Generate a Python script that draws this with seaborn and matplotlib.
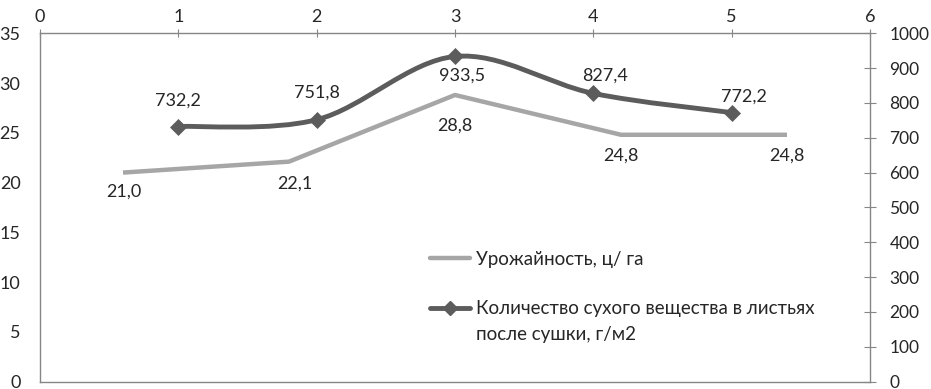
import numpy as np
import pandas as pd
import matplotlib
matplotlib.use("Agg")
import matplotlib.pyplot as plt
from matplotlib.path import Path
from matplotlib.patches import PathPatch
from matplotlib.lines import Line2D
import seaborn as sns

# данные
categories = ["1", "2", "3", "4", "5"]
urozhai = [21.0, 22.1, 28.8, 24.8, 24.8]          # ц/га, левая ось
suhoe_x = [1, 2, 3, 4, 5]                          # верхняя ось
suhoe = [732.2, 751.8, 933.5, 827.4, 772.2]        # г/м2, правая ось
top_ticks = [0, 1, 2, 3, 4, 5, 6]
left_ticks = [0, 5, 10, 15, 20, 25, 30, 35]
right_ticks = [0, 100, 200, 300, 400, 500, 600, 700, 800, 900, 1000]

label1 = "Урожайность, ц/ га"
label2_a = "Количество сухого вещества в листьях"
label2_b = "после сушки, г/м2"

light = "#A6A6A6"
dark = "#5C5C5C"
spine_c = "#868686"

sns.set_style("white")
plt.rcParams['font.family'] = ['Lato', 'DejaVu Sans']
plt.rcParams['font.size'] = 13

fig = plt.figure(figsize=(9.31, 3.89), dpi=100)
rect = [40 / 931, 1 - 381.5 / 389, 830 / 931, 348.2 / 389]
ax = fig.add_axes(rect)
ax2 = fig.add_axes(rect, facecolor="none")

# первичная ось: категории
df1 = pd.DataFrame({"cat": np.arange(len(categories)), "val": urozhai})
sns.lineplot(data=df1, x="cat", y="val", ax=ax, color=light, linewidth=3.2,
             solid_capstyle="butt")
ax.set_xlim(-0.5, len(categories) - 0.5)
ax.set_ylim(0, 35)
ax.set_yticks(left_ticks)
ax.set_xticks([])
ax.set_xlabel("")
ax.set_ylabel("")
ax.tick_params(axis="y", length=0, pad=14, labelsize=13)
for s in ["top", "right"]:
    ax.spines[s].set_visible(False)
for s in ["left", "bottom"]:
    ax.spines[s].set_color(spine_c)
    ax.spines[s].set_linewidth(1.0)

lab_off1 = [(1, -19), (6, -22), (0, -31), (0, -21), (0, -21)]
for i, v in enumerate(urozhai):
    ax.annotate(f"{v:.1f}".replace(".", ","), (i, v), xytext=lab_off1[i],
                textcoords="offset pixels", ha="center", va="center", fontsize=13)

# вторичная ось: сглаженная линия (Безье как в Excel)
xs = np.array(suhoe_x, dtype=float)
ys = np.array(suhoe, dtype=float)
px = np.concatenate([[xs[0]], xs, [xs[-1]]])
py = np.concatenate([[ys[0]], ys, [ys[-1]]])
verts = [(xs[0], ys[0])]
codes = [Path.MOVETO]
for i in range(1, len(xs)):
    c1 = (px[i] + (px[i + 1] - px[i - 1]) / 6, py[i] + (py[i + 1] - py[i - 1]) / 6)
    c2 = (px[i + 1] - (px[i + 2] - px[i]) / 6, py[i + 1] - (py[i + 2] - py[i]) / 6)
    verts += [c1, c2, (px[i + 1], py[i + 1])]
    codes += [Path.CURVE4] * 3
ax2.add_patch(PathPatch(Path(verts, codes), facecolor="none", edgecolor=dark,
                        linewidth=3.5, capstyle="round"))
df2 = pd.DataFrame({"x": suhoe_x, "y": suhoe})
sns.scatterplot(data=df2, x="x", y="y", ax=ax2, marker="D", s=75, color=dark,
                edgecolor=dark, linewidth=0, zorder=3)
ax2.set_xlim(0, 6)
ax2.set_ylim(0, 1000)
ax2.set_xticks(top_ticks)
ax2.set_yticks(right_ticks)
ax2.set_xlabel("")
ax2.set_ylabel("")
ax2.xaxis.tick_top()
ax2.yaxis.tick_right()
ax2.tick_params(axis="x", direction="inout", length=6, color=spine_c, pad=3, labelsize=13)
ax2.tick_params(axis="y", direction="inout", length=8, color=spine_c, pad=10, labelsize=12.5)
for s in ["left", "bottom"]:
    ax2.spines[s].set_visible(False)
for s in ["top", "right"]:
    ax2.spines[s].set_color(spine_c)
    ax2.spines[s].set_linewidth(1.0)

lab_off2 = [(0, 26), (0, 27), (7, -19), (12, 18), (12, 16)]
for i, v in enumerate(suhoe):
    ax2.annotate(f"{v:.1f}".replace(".", ","), (suhoe_x[i], v), xytext=lab_off2[i],
                 textcoords="offset pixels", ha="center", va="center", fontsize=13)

# легенда
handles = [Line2D([], [], color=light, linewidth=3.2),
           Line2D([], [], color=dark, linewidth=3.5, marker="D", markersize=7)]
leg = ax2.legend(handles, [label1, label2_a], loc="upper left",
                 bbox_to_anchor=(430 / 931, 1 - 251 / 389), bbox_transform=fig.transFigure,
                 frameon=False, borderpad=0, borderaxespad=0, handlelength=2.15,
                 handletextpad=0.3, labelspacing=1.72, fontsize=13.5)
fig.canvas.draw()
bb = leg.get_texts()[1].get_window_extent()
fig.text(bb.x0, bb.y0 - 26, label2_b, transform=None, fontsize=13.5, ha="left", va="bottom")

fig.savefig("out.png", dpi=100)
